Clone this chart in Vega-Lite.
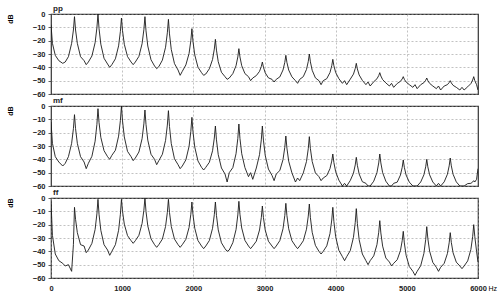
{
"$schema": "https://vega.github.io/schema/vega-lite/v6.json",
"background": "white",
"padding": {"left": 5, "top": 4, "right": 5, "bottom": 1},
"bounds": "flush",
"spacing": 12,
"config": {
 "font": "Liberation Sans",
 "view": {"stroke": "#333", "strokeWidth": 1.2},
 "axis": {"labelFont": "Liberation Sans", "labelFontWeight": "bold", "labelFontSize": 7.5, "labelColor": "#222", "gridColor": "#999", "gridDash": [2, 2], "gridWidth": 0.6, "domain": false, "ticks": false, "labelPadding": 6},
 "axisY": {"ticks": true, "tickSize": 3, "tickColor": "#333", "tickWidth": 0.8, "labelPadding": 3},
 "title": {"fontSize": 8, "fontWeight": "bold", "anchor": "start", "frame": "group", "offset": -3, "dx": 2, "color": "#222", "font": "Liberation Sans"}
},
"datasets": {"spec": [
{"f":0,"pp":-8,"mf":-12,"ff":-3},{"f":20,"pp":-22,"mf":-28,"ff":-28},{"f":60,"pp":-31,"mf":-38,"ff":-42},{"f":110,"pp":-35,"mf":-42,"ff":-47},{"f":165,"pp":-37,"mf":-45,"ff":-49},{"f":200,"pp":-36,"mf":-43,"ff":-51},{"f":245,"pp":-32,"mf":-38,"ff":-50},{"f":290,"pp":-22,"mf":-28,"ff":-55},{"f":315,"pp":-12,"mf":-17,"ff":-35},
{"f":330,"pp":-2,"mf":-6.5,"ff":-7},{"f":345,"pp":-12,"mf":-17,"ff":-16},{"f":370,"pp":-22,"mf":-28,"ff":-26},{"f":415,"pp":-32,"mf":-38,"ff":-35},{"f":465,"pp":-35,"mf":-42,"ff":-36},{"f":495,"pp":-38,"mf":-47,"ff":-41},{"f":525,"pp":-36,"mf":-43,"ff":-39},{"f":575,"pp":-31.5,"mf":-37.7,"ff":-34},{"f":620,"pp":-21.5,"mf":-26.4,"ff":-23.6},{"f":645,"pp":-10.4,"mf":-13.8,"ff":-11.9},
{"f":660,"pp":0,"mf":-2,"ff":-1},{"f":675,"pp":-10.9,"mf":-12.4,"ff":-12.2},{"f":700,"pp":-22.6,"mf":-23.5,"ff":-24.2},{"f":745,"pp":-33.2,"mf":-33.5,"ff":-35},{"f":795,"pp":-37.5,"mf":-38,"ff":-39},{"f":825,"pp":-40,"mf":-40,"ff":-43},{"f":855,"pp":-38,"mf":-37,"ff":-40},{"f":905,"pp":-33.6,"mf":-33.2,"ff":-35},{"f":950,"pp":-23.9,"mf":-22.6,"ff":-24.2},{"f":975,"pp":-13.1,"mf":-10.9,"ff":-12.2},
{"f":990,"pp":-3,"mf":0,"ff":-1},{"f":1005,"pp":-12.5,"mf":-11.2,"ff":-10},{"f":1030,"pp":-22.7,"mf":-23.2,"ff":-19.6},{"f":1075,"pp":-31.9,"mf":-34,"ff":-28.2},{"f":1125,"pp":-36,"mf":-38,"ff":-32},{"f":1155,"pp":-38,"mf":-41,"ff":-34},{"f":1185,"pp":-36,"mf":-39,"ff":-32},{"f":1235,"pp":-31.8,"mf":-34.5,"ff":-28},{"f":1280,"pp":-22.3,"mf":-24.5,"ff":-19.1},{"f":1305,"pp":-11.8,"mf":-13.4,"ff":-9.2},
{"f":1320,"pp":-2,"mf":-3,"ff":0},{"f":1335,"pp":-12.6,"mf":-13.9,"ff":-10.1},{"f":1360,"pp":-24,"mf":-25.6,"ff":-20.9},{"f":1405,"pp":-34.3,"mf":-36.2,"ff":-30.6},{"f":1455,"pp":-39,"mf":-40,"ff":-35},{"f":1485,"pp":-41,"mf":-44,"ff":-37},{"f":1515,"pp":-39.5,"mf":-41,"ff":-35},{"f":1565,"pp":-34.6,"mf":-36.2,"ff":-30.8},{"f":1610,"pp":-24.9,"mf":-25.8,"ff":-21.3},{"f":1635,"pp":-14.1,"mf":-14.3,"ff":-10.8},
{"f":1650,"pp":-4,"mf":-3.5,"ff":-1},{"f":1665,"pp":-14.9,"mf":-15.4,"ff":-10.8},{"f":1690,"pp":-26.6,"mf":-28.2,"ff":-21.3},{"f":1735,"pp":-37.2,"mf":-39.6,"ff":-30.8},{"f":1785,"pp":-42,"mf":-44,"ff":-35},{"f":1815,"pp":-46,"mf":-47,"ff":-37},{"f":1845,"pp":-43,"mf":-45,"ff":-35},{"f":1895,"pp":-38.2,"mf":-40.4,"ff":-31},{"f":1940,"pp":-29.6,"mf":-30.3,"ff":-22.1},{"f":1965,"pp":-20,"mf":-19,"ff":-12.2},
{"f":1980,"pp":-11,"mf":-8.5,"ff":-3},{"f":1995,"pp":-20.5,"mf":-19.3,"ff":-12.5},{"f":2020,"pp":-30.7,"mf":-30.8,"ff":-22.7},{"f":2065,"pp":-39.9,"mf":-41.2,"ff":-31.9},{"f":2115,"pp":-44,"mf":-46,"ff":-36},{"f":2145,"pp":-46,"mf":-48,"ff":-38},{"f":2175,"pp":-45,"mf":-46,"ff":-36},{"f":2225,"pp":-41.1,"mf":-42.2,"ff":-31.9},{"f":2270,"pp":-34.1,"mf":-33.6,"ff":-22.7},{"f":2295,"pp":-26.3,"mf":-24,"ff":-12.5},
{"f":2310,"pp":-19,"mf":-15,"ff":-3},{"f":2325,"pp":-27.1,"mf":-25.4,"ff":-13.1},{"f":2350,"pp":-35.8,"mf":-36.5,"ff":-23.9},{"f":2395,"pp":-43.7,"mf":-46.5,"ff":-33.6},{"f":2445,"pp":-47,"mf":-51,"ff":-38},{"f":2475,"pp":-49,"mf":-57,"ff":-40},{"f":2505,"pp":-48,"mf":-50,"ff":-39},{"f":2555,"pp":-44.7,"mf":-46.2,"ff":-33.5},{"f":2600,"pp":-38.8,"mf":-35.8,"ff":-23.7},{"f":2625,"pp":-32.2,"mf":-24.3,"ff":-12.7},
{"f":2640,"pp":-26,"mf":-13.5,"ff":-2.5},{"f":2655,"pp":-32.2,"mf":-24.3,"ff":-12.2},{"f":2680,"pp":-38.8,"mf":-35.8,"ff":-22.5},{"f":2725,"pp":-44.7,"mf":-46.2,"ff":-31.8},{"f":2775,"pp":-47,"mf":-53,"ff":-36},{"f":2805,"pp":-50,"mf":-50,"ff":-38},{"f":2835,"pp":-48,"mf":-55,"ff":-36},{"f":2885,"pp":-46.2,"mf":-46.5,"ff":-32.4},{"f":2930,"pp":-43,"mf":-36.5,"ff":-24},{"f":2955,"pp":-39.4,"mf":-25.4,"ff":-14.7},
{"f":2970,"pp":-36,"mf":-15,"ff":-6},{"f":2985,"pp":-39.9,"mf":-25.6,"ff":-14.7},{"f":3010,"pp":-44.1,"mf":-37,"ff":-24},{"f":3055,"pp":-47.9,"mf":-47.3,"ff":-32.4},{"f":3105,"pp":-49,"mf":-52,"ff":-36},{"f":3135,"pp":-51,"mf":-56,"ff":-38},{"f":3165,"pp":-49,"mf":-51,"ff":-36},{"f":3215,"pp":-47.2,"mf":-48.4,"ff":-32},{"f":3260,"pp":-42,"mf":-40.2,"ff":-23.1},{"f":3285,"pp":-36.3,"mf":-31,"ff":-13.2},
{"f":3300,"pp":-31,"mf":-22.5,"ff":-4},{"f":3315,"pp":-36.3,"mf":-31.6,"ff":-13.2},{"f":3340,"pp":-42,"mf":-41.4,"ff":-23.1},{"f":3385,"pp":-47.1,"mf":-50.1,"ff":-32},{"f":3435,"pp":-50,"mf":-57,"ff":-36},{"f":3465,"pp":-52,"mf":-54,"ff":-38},{"f":3495,"pp":-49,"mf":-56,"ff":-36},{"f":3545,"pp":-47,"mf":-50.2,"ff":-32.1},{"f":3590,"pp":-41.6,"mf":-41.6,"ff":-23.4},{"f":3615,"pp":-35.6,"mf":-32,"ff":-13.6},
{"f":3630,"pp":-30,"mf":-23,"ff":-4.5},{"f":3645,"pp":-35.9,"mf":-32,"ff":-14.7},{"f":3670,"pp":-42.2,"mf":-41.6,"ff":-25.7},{"f":3715,"pp":-47.9,"mf":-50.2,"ff":-35.5},{"f":3765,"pp":-50,"mf":-53,"ff":-40},{"f":3795,"pp":-53,"mf":-56,"ff":-42},{"f":3825,"pp":-50,"mf":-54,"ff":-40},{"f":3875,"pp":-48.5,"mf":-52.2,"ff":-35.9},{"f":3920,"pp":-43.9,"mf":-47,"ff":-26.7},{"f":3945,"pp":-38.8,"mf":-41.3,"ff":-16.5},
{"f":3960,"pp":-34,"mf":-36,"ff":-7},{"f":3975,"pp":-38.8,"mf":-42.4,"ff":-17.6},{"f":4000,"pp":-43.9,"mf":-49.3,"ff":-29},{"f":4045,"pp":-48.5,"mf":-55.6,"ff":-39.3},{"f":4095,"pp":-52,"mf":-60,"ff":-44},{"f":4125,"pp":-50,"mf":-58,"ff":-47},{"f":4155,"pp":-53,"mf":-60,"ff":-44},{"f":4205,"pp":-48.9,"mf":-55.9,"ff":-39.5},{"f":4250,"pp":-45.1,"mf":-50.4,"ff":-29.5},{"f":4275,"pp":-40.9,"mf":-44.2,"ff":-18.4},
{"f":4290,"pp":-37,"mf":-38.5,"ff":-8},{"f":4305,"pp":-41.2,"mf":-44.5,"ff":-19.2},{"f":4330,"pp":-45.7,"mf":-51,"ff":-31.2},{"f":4375,"pp":-49.8,"mf":-56.8,"ff":-42},{"f":4425,"pp":-53,"mf":-58,"ff":-47},{"f":4455,"pp":-51,"mf":-60,"ff":-50},{"f":4485,"pp":-54,"mf":-60,"ff":-47},{"f":4535,"pp":-50.8,"mf":-56.4,"ff":-43.4},{"f":4580,"pp":-48.6,"mf":-50,"ff":-35},{"f":4605,"pp":-46.2,"mf":-42.7,"ff":-25.7},
{"f":4620,"pp":-44,"mf":-36,"ff":-17},{"f":4635,"pp":-46.5,"mf":-42.7,"ff":-26.2},{"f":4660,"pp":-49.2,"mf":-50,"ff":-36.1},{"f":4705,"pp":-51.7,"mf":-56.4,"ff":-45},{"f":4755,"pp":-54,"mf":-60,"ff":-48},{"f":4785,"pp":-52,"mf":-60,"ff":-51},{"f":4815,"pp":-55,"mf":-58,"ff":-49},{"f":4865,"pp":-52.1,"mf":-57.1,"ff":-46.3},{"f":4910,"pp":-50.5,"mf":-51.8,"ff":-39.5},{"f":4935,"pp":-48.7,"mf":-46,"ff":-32},
{"f":4950,"pp":-47,"mf":-40.5,"ff":-25},{"f":4965,"pp":-49,"mf":-46,"ff":-33.7},{"f":4990,"pp":-51,"mf":-51.8,"ff":-43},{"f":5035,"pp":-53,"mf":-57.1,"ff":-51.4},{"f":5085,"pp":-55,"mf":-60,"ff":-55},{"f":5115,"pp":-53,"mf":-60,"ff":-58},{"f":5145,"pp":-56,"mf":-60,"ff":-55},{"f":5195,"pp":-53,"mf":-57,"ff":-50.8},{"f":5240,"pp":-51.5,"mf":-51.6,"ff":-41.5},{"f":5265,"pp":-49.7,"mf":-45.6,"ff":-31.2},
{"f":5280,"pp":-48,"mf":-40,"ff":-21.5},{"f":5295,"pp":-50,"mf":-45.6,"ff":-30.3},{"f":5320,"pp":-52,"mf":-51.6,"ff":-39.8},{"f":5365,"pp":-54,"mf":-57,"ff":-48.3},{"f":5415,"pp":-56,"mf":-60,"ff":-52},{"f":5445,"pp":-54,"mf":-58,"ff":-55},{"f":5475,"pp":-57,"mf":-60,"ff":-52},{"f":5525,"pp":-54,"mf":-56.9,"ff":-49},{"f":5570,"pp":-53,"mf":-51.2,"ff":-41.7},{"f":5595,"pp":-51.4,"mf":-44.9,"ff":-33.6},
{"f":5610,"pp":-50,"mf":-39,"ff":-26},{"f":5625,"pp":-51.7,"mf":-44.9,"ff":-33.3},{"f":5650,"pp":-53.5,"mf":-51.2,"ff":-41.1},{"f":5695,"pp":-55,"mf":-56.9,"ff":-48.1},{"f":5745,"pp":-57,"mf":-60,"ff":-51},{"f":5775,"pp":-55,"mf":-60,"ff":-53},{"f":5805,"pp":-57,"mf":-60,"ff":-51},{"f":5855,"pp":-54.6,"mf":-58.2,"ff":-47.2},{"f":5900,"pp":-52.2,"mf":-58,"ff":-38.6},{"f":5925,"pp":-49.5,"mf":-57,"ff":-29},
{"f":5940,"pp":-47,"mf":-56,"ff":-20},{"f":5955,"pp":-50,"mf":-57,"ff":-29},{"f":5980,"pp":-53,"mf":-55,"ff":-40},{"f":6000,"pp":-57,"mf":-47,"ff":-48}
]},
"data": {"name": "spec"},
"vconcat": [
 {"title": "pp", "width": 427, "height": 80,
  "mark": {"type": "line", "color": "#1a1a1a", "strokeWidth": 0.9, "clip": true},
  "encoding": {
   "x": {"field": "f", "type": "quantitative", "scale": {"domain": [0, 6000], "nice": false}, "axis": {"labels": false, "labelPadding": 0, "maxExtent": 0, "title": null, "values": [1000, 2000, 3000, 4000, 5000], "grid": true}},
   "y": {"field": "pp", "type": "quantitative", "scale": {"domain": [-60, 0], "nice": false}, "axis": {"title": "dB", "titleFontSize": 7, "titleFontWeight": "bold", "titleAnchor": "end", "titlePadding": 19, "values": [0, -10, -20, -30, -40, -50, -60], "grid": true}}
  }},
 {"title": "mf", "width": 427, "height": 80,
  "mark": {"type": "line", "color": "#1a1a1a", "strokeWidth": 0.9, "clip": true},
  "encoding": {
   "x": {"field": "f", "type": "quantitative", "scale": {"domain": [0, 6000], "nice": false}, "axis": {"labels": false, "labelPadding": 0, "maxExtent": 0, "title": null, "values": [1000, 2000, 3000, 4000, 5000], "grid": true}},
   "y": {"field": "mf", "type": "quantitative", "scale": {"domain": [-60, 0], "nice": false}, "axis": {"title": "dB", "titleFontSize": 7, "titleFontWeight": "bold", "titleAnchor": "end", "titlePadding": 19, "values": [0, -10, -20, -30, -40, -50, -60], "grid": true}}
  }},
 {"title": "ff", "width": 427, "height": 80,
  "mark": {"type": "line", "color": "#1a1a1a", "strokeWidth": 0.9, "clip": true},
  "encoding": {
   "x": {"field": "f", "type": "quantitative", "scale": {"domain": [0, 6000], "nice": false}, "axis": {"title": "Hz", "format": "d", "titleFontSize": 7, "titleFontWeight": "normal", "titleAnchor": "end", "titleAlign": "left", "titleAngle": 0, "titleX": 437, "titleY": 6, "titleBaseline": "top", "values": [0, 1000, 2000, 3000, 4000, 5000, 6000], "labelFlush": false, "grid": true}},
   "y": {"field": "ff", "type": "quantitative", "scale": {"domain": [-60, 0], "nice": false}, "axis": {"title": "dB", "titleFontSize": 7, "titleFontWeight": "bold", "titleAnchor": "end", "titlePadding": 19, "values": [0, -10, -20, -30, -40, -50, -60], "grid": true}}
  }}
]
}
